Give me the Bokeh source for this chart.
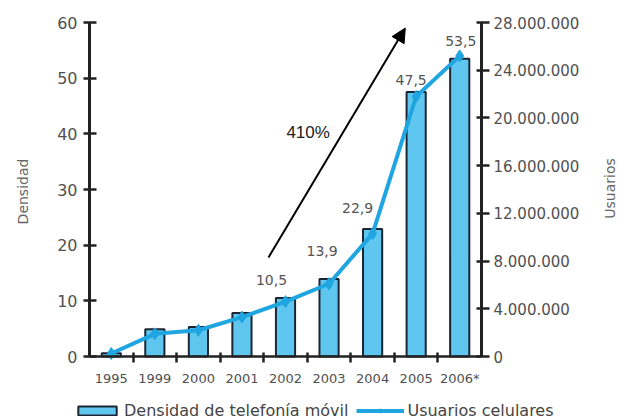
import numpy as np
from bokeh.plotting import figure
from bokeh.models import (Range1d, LinearAxis, FixedTicker, Legend, LegendItem,
                          Label, Arrow, NormalHead, ColumnDataSource)
from bokeh.core.properties import value
from bokeh.embed import file_html
from bokeh.resources import INLINE

# ---- data ----
years = ["1995", "1999", "2000", "2001", "2002", "2003", "2004", "2005", "2006*"]
density = [0.6, 4.9, 5.3, 7.8, 10.5, 13.9, 22.9, 47.5, 53.5]
users_millions = [0.25, 1.9, 2.2, 3.3, 4.6, 6.1, 10.3, 21.8, 25.2]
labeled_years = ["2002", "2003", "2004", "2005", "2006*"]
labeled_text = ["10,5", "13,9", "22,9", "47,5", "53,5"]
left_ticks = [0, 10, 20, 30, 40, 50, 60]
right_ticks = [0, 4000000, 8000000, 12000000, 16000000, 20000000, 24000000, 28000000]
right_tick_labels = ["0", "4.000.000", "8.000.000", "12.000.000", "16.000.000",
                     "20.000.000", "24.000.000", "28.000.000"]
DENS_MAX = 60
USERS_MAX = 28000000

# ---- layout constants (pixels) ----
W, H = 618, 419
AX_L, AX_R, AX_T, AX_B = 89, 481, 22, 356   # where the axes sit on the canvas
n = len(years)
px_x = (AX_R - AX_L) / n
px_y = (AX_B - AX_T) / DENS_MAX
px_u = (AX_B - AX_T) / USERS_MAX

centers = np.arange(n) + 0.5
users = [u * 1e6 for u in users_millions]

BAR_FILL = "#5fc6f0"
BAR_LINE = "#1c2633"
LINE_COL = "#1fa5df"
AXIS_COL = "#222222"
TICK_TXT = "#505050"

# the frame covers the whole canvas; axes are drawn at fixed locations
x_rng = Range1d(-AX_L / px_x, (W - AX_L) / px_x)
y_rng = Range1d(-(H - AX_B) / px_y, DENS_MAX + AX_T / px_y)
u_rng = Range1d(-(H - AX_B) / px_u, USERS_MAX + AX_T / px_u)

p = figure(width=W, height=H, x_range=x_rng, y_range=y_rng,
           output_backend="svg", toolbar_location=None, min_border=0,
           min_border_left=0, min_border_right=0, min_border_top=0, min_border_bottom=0)
p.extra_y_ranges = {"users": u_rng}
p.xgrid.visible = False
p.ygrid.visible = False
p.outline_line_color = None
p.background_fill_color = "white"
p.border_fill_color = "white"

# x axis: labels at centres, ticks between categories
xa = p.xaxis[0]
xa.fixed_location = 0
xa.bounds = (0, n)
xa.ticker = FixedTicker(ticks=list(centers), minor_ticks=list(range(1, n)))
xa.major_label_overrides = {float(c): y for c, y in zip(centers, years)}
xa.major_tick_in = 0
xa.major_tick_out = 0
xa.minor_tick_in = 4
xa.minor_tick_out = 6
xa.minor_tick_line_color = AXIS_COL
xa.minor_tick_line_width = 2.5
xa.axis_line_color = AXIS_COL
xa.axis_line_width = 2.5
xa.major_label_text_font = "DejaVu Sans"
xa.major_label_text_font_size = "13px"
xa.major_label_text_color = TICK_TXT
xa.major_label_standoff = 8

# left axis
ya = p.yaxis[0]
ya.fixed_location = 0
ya.bounds = (0, DENS_MAX)
ya.ticker = FixedTicker(ticks=left_ticks)
ya.major_tick_in = 7
ya.major_tick_out = 6
ya.minor_tick_line_color = None
ya.axis_line_color = AXIS_COL
ya.axis_line_width = 3
ya.major_tick_line_color = AXIS_COL
ya.major_tick_line_width = 2.5
ya.major_label_text_font = "DejaVu Sans"
ya.major_label_text_font_size = "16px"
ya.major_label_text_color = TICK_TXT
ya.major_label_standoff = 6

# right axis
ra = LinearAxis(y_range_name="users", ticker=FixedTicker(ticks=right_ticks),
                major_label_overrides={t: l for t, l in zip(right_ticks, right_tick_labels)})
ra.fixed_location = n
ra.bounds = (0, USERS_MAX)
ra.major_tick_in = 5
ra.major_tick_out = 8
ra.minor_tick_line_color = None
ra.axis_line_color = AXIS_COL
ra.axis_line_width = 3
ra.major_tick_line_color = AXIS_COL
ra.major_tick_line_width = 2.5
ra.major_label_text_font = "DejaVu Sans"
ra.major_label_text_font_size = "15px"
ra.major_label_text_color = TICK_TXT
ra.major_label_standoff = 4
p.add_layout(ra, "right")

# bars
bars = p.vbar(x=centers, top=density, width=0.44, bottom=0,
              fill_color=BAR_FILL, line_color=BAR_LINE, line_width=2)

# users line
line_r = p.line(x=centers, y=users, y_range_name="users",
                line_color=LINE_COL, line_width=4)
pts_r = p.scatter(x=centers, y=users, y_range_name="users", marker="diamond",
                  size=12, fill_color=LINE_COL, line_color=LINE_COL)

# value labels (offsets in px: x, y up)
lab_dx = [-14, -7, -15, -5, 1]
lab_dy = [18, 28, 21, 12, 18]
lx, ly = [], []
for yr, dx, dy in zip(labeled_years, lab_dx, lab_dy):
    i = years.index(yr)
    lx.append(centers[i] + dx / px_x)
    ly.append(density[i] + dy / px_y)
src = ColumnDataSource(dict(x=lx, y=ly, t=labeled_text))
p.text(x="x", y="y", text="t", source=src, text_align="center", text_baseline="middle",
       text_font=value("DejaVu Sans"), text_font_size="14px", text_color="#555555")

# arrow + 410%
p.add_layout(Arrow(end=NormalHead(size=14, fill_color="black", line_color="black"),
                   x_start=4.11, y_start=17.8, x_end=7.25, y_end=59.0,
                   line_color="black", line_width=2))
p.add_layout(Label(x=5.02, y=40.2, text="410%", text_align="center", text_baseline="middle",
                   text_font="Liberation Sans", text_font_size="17px", text_color="#222222"))

# axis titles (read bottom to top)
p.add_layout(Label(x=(22 - AX_L) / px_x, y=(AX_B - 191) / px_y, text="Densidad", angle=np.pi / 2,
                   text_align="center", text_baseline="middle", text_font="DejaVu Sans",
                   text_font_size="14px", text_color="#666666"))
p.add_layout(Label(x=(609 - AX_L) / px_x, y=(AX_B - 188) / px_y, text="Usuarios", angle=np.pi / 2,
                   text_align="center", text_baseline="middle", text_font="DejaVu Sans",
                   text_font_size="14px", text_color="#666666"))

# legend (inside the full-canvas frame)
legend = Legend(items=[LegendItem(label="Densidad de telefonía móvil", renderers=[bars]),
                       LegendItem(label="Usuarios celulares", renderers=[line_r, pts_r])],
                orientation="horizontal", location=(73, -1),
                padding=0, margin=0, spacing=8, label_standoff=3,
                glyph_width=48, glyph_height=11, label_height=16,
                border_line_color=None, background_fill_alpha=0,
                label_text_font="DejaVu Sans", label_text_font_size="16px",
                label_text_color="#444444")
p.add_layout(legend)

open("out.html", "w").write(file_html(p, INLINE))
